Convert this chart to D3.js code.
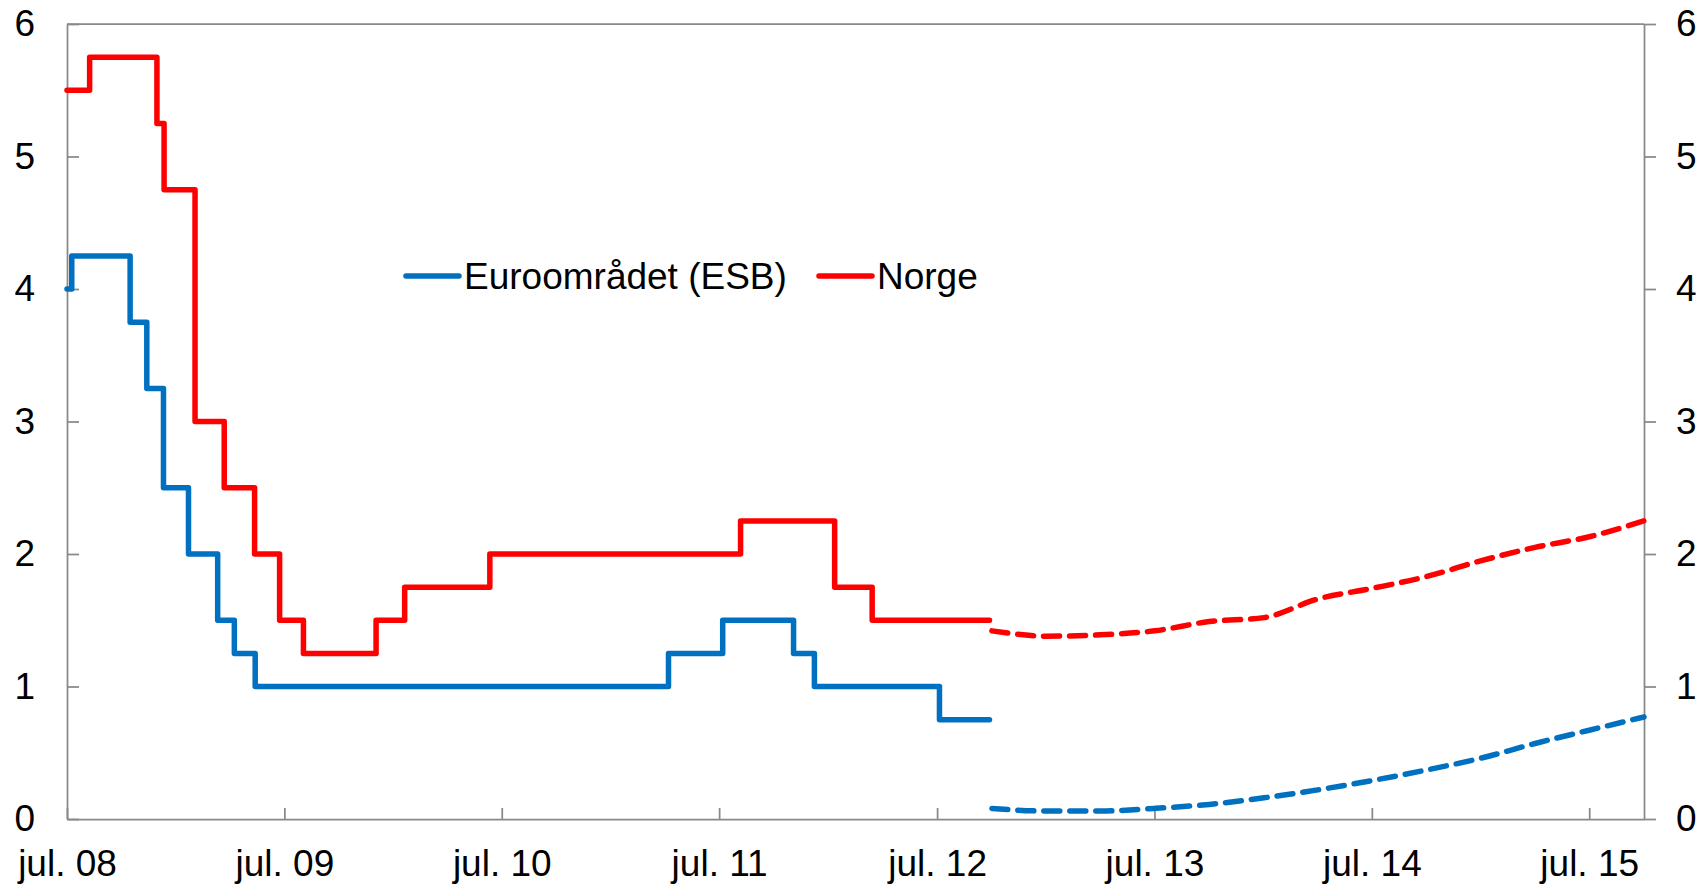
<!DOCTYPE html>
<html>
<head>
<meta charset="utf-8">
<script src="https://cdn.jsdelivr.net/npm/d3@7"></script>
<style>
  body { margin: 0; background: #fff; }
  svg { display: block; }
  text { font-family: "Liberation Sans", Arial, sans-serif; fill: #000; }
</style>
</head>
<body>
<svg id="chart" width="1700" height="886"></svg>
<script>
// policy rate, euro area (ECB) - step changes
const euroDates = ["2008-07-01", "2008-07-09", "2008-10-15", "2008-11-12", "2008-12-10", "2009-01-21",
    "2009-03-11", "2009-04-08", "2009-05-13", "2011-04-07", "2011-07-07", "2011-11-03",
    "2011-12-08", "2012-07-05", "2012-09-27"];
const euroRates = [4.0, 4.25, 3.75, 3.25, 2.5, 2.0, 1.5, 1.25, 1.0, 1.25, 1.5, 1.25, 1.0, 0.75, 0.75];

// policy rate, Norway - step changes
const norgeDates = ["2008-07-01", "2008-08-08", "2008-11-29", "2008-12-11", "2009-02-01", "2009-03-22",
    "2009-05-12", "2009-06-23", "2009-08-02", "2009-12-02", "2010-01-19", "2010-06-11",
    "2011-08-06", "2012-01-11", "2012-03-14", "2012-09-27"];
const norgeRates = [5.5, 5.75, 5.25, 4.75, 3.0, 2.5, 2.0, 1.5, 1.25, 1.5, 1.75, 2.0, 2.25, 1.75, 1.5, 1.5];

// forward / projected paths (dashed)
const forecastDates = ["2012-10-01", "2013-01-01", "2013-04-01", "2013-07-01", "2013-10-01", "2014-01-01",
    "2014-04-01", "2014-07-01", "2014-10-01", "2015-01-01", "2015-04-01", "2015-07-01", "2015-10-01"];
const euroForecast = [0.08, 0.06, 0.06, 0.08, 0.11, 0.16, 0.22, 0.29, 0.37, 0.46, 0.57, 0.67, 0.77];
const norgeForecast = [1.42, 1.38, 1.39, 1.42, 1.49, 1.52, 1.66, 1.74, 1.83, 1.95, 2.05, 2.13, 2.25];

const xTickDates = ["2008-07-01", "2009-07-01", "2010-07-01", "2011-07-01", "2012-07-01",
    "2013-07-01", "2014-07-01", "2015-07-01"];
const xTickLabels = ["jul. 08", "jul. 09", "jul. 10", "jul. 11", "jul. 12", "jul. 13", "jul. 14", "jul. 15"];
const yTicks = [0, 1, 2, 3, 4, 5, 6];

const seriesNames = ["Euroområdet (ESB)", "Norge"];
const seriesColors = ["#0070C0", "#FF0000"];

let parse = d3.timeParse("%Y-%m-%d");
let svg = d3.select("#chart");
let width = +svg.attr("width");
let height = +svg.attr("height");
let margin = {top: 24, right: 56, bottom: 67, left: 67};
let axisColor = "#898989";
let fontSize = 37;

let x = d3.scaleTime()
    .domain([parse("2008-07-01"), parse("2015-10-01")])
    .range([margin.left, width - margin.right]);
let y = d3.scaleLinear()
    .domain([0, 6])
    .range([height - margin.bottom, margin.top]);

function styleAxis(g) {
    g.attr("font-family", null).attr("font-size", null);
    g.selectAll("path, line").attr("stroke", axisColor).attr("stroke-width", 1.75);
    g.selectAll("text").style("font-size", fontSize + "px").attr("fill", "#000");
}

// top border
svg.append("line")
    .attr("x1", margin.left).attr("x2", width - margin.right)
    .attr("y1", margin.top).attr("y2", margin.top)
    .attr("stroke", axisColor).attr("stroke-width", 1.75);

// left axis, ticks pointing inward
svg.append("g")
    .attr("transform", "translate(" + margin.left + ",0)")
    .call(d3.axisLeft(y).tickValues(yTicks).tickFormat(d3.format("d"))
        .tickSizeInner(-12).tickSizeOuter(0).tickPadding(32))
    .call(styleAxis);

// right axis, ticks pointing outward
svg.append("g")
    .attr("transform", "translate(" + (width - margin.right) + ",0)")
    .call(d3.axisRight(y).tickValues(yTicks).tickFormat(d3.format("d"))
        .tickSizeInner(12).tickSizeOuter(0).tickPadding(20))
    .call(styleAxis);

// bottom axis
svg.append("g")
    .attr("transform", "translate(0," + (height - margin.bottom) + ")")
    .call(d3.axisBottom(x).tickValues(xTickDates.map(parse))
        .tickFormat((d, i) => xTickLabels[i])
        .tickSizeInner(-11).tickSizeOuter(0).tickPadding(31))
    .call(styleAxis);

let stepLine = d3.line()
    .x(d => x(d.date))
    .y(d => y(d.value))
    .curve(d3.curveStepAfter);
let smoothLine = d3.line()
    .x(d => x(d.date))
    .y(d => y(d.value))
    .curve(d3.curveMonotoneX);

function zip(dates, values) {
    return dates.map((d, i) => ({date: parse(d), value: values[i]}));
}

let solid = [zip(euroDates, euroRates), zip(norgeDates, norgeRates)];
let dashed = [zip(forecastDates, euroForecast), zip(forecastDates, norgeForecast)];

svg.append("g").selectAll("path")
    .data(solid)
    .enter().append("path")
    .attr("d", stepLine)
    .attr("fill", "none")
    .attr("stroke", (d, i) => seriesColors[i])
    .attr("stroke-width", 5.5)
    .attr("stroke-linejoin", "round")
    .attr("stroke-linecap", "round");

svg.append("g").selectAll("path")
    .data(dashed)
    .enter().append("path")
    .attr("d", smoothLine)
    .attr("fill", "none")
    .attr("stroke", (d, i) => seriesColors[i])
    .attr("stroke-width", 5.5)
    .attr("stroke-dasharray", "16,10")
    .attr("stroke-linecap", "round");

// legend
let legendX = [406, 819];
let legendY = 276;
let legend = svg.append("g").selectAll("g")
    .data(seriesNames)
    .enter().append("g")
    .attr("transform", (d, i) => "translate(" + legendX[i] + "," + legendY + ")");
legend.append("line")
    .attr("x1", 0).attr("x2", 53)
    .attr("stroke", (d, i) => seriesColors[i])
    .attr("stroke-width", 5.5)
    .attr("stroke-linecap", "round");
legend.append("text")
    .attr("x", 58)
    .attr("y", 12.5)
    .style("font-size", fontSize + "px")
    .text(d => d);
</script>
</body>
</html>
